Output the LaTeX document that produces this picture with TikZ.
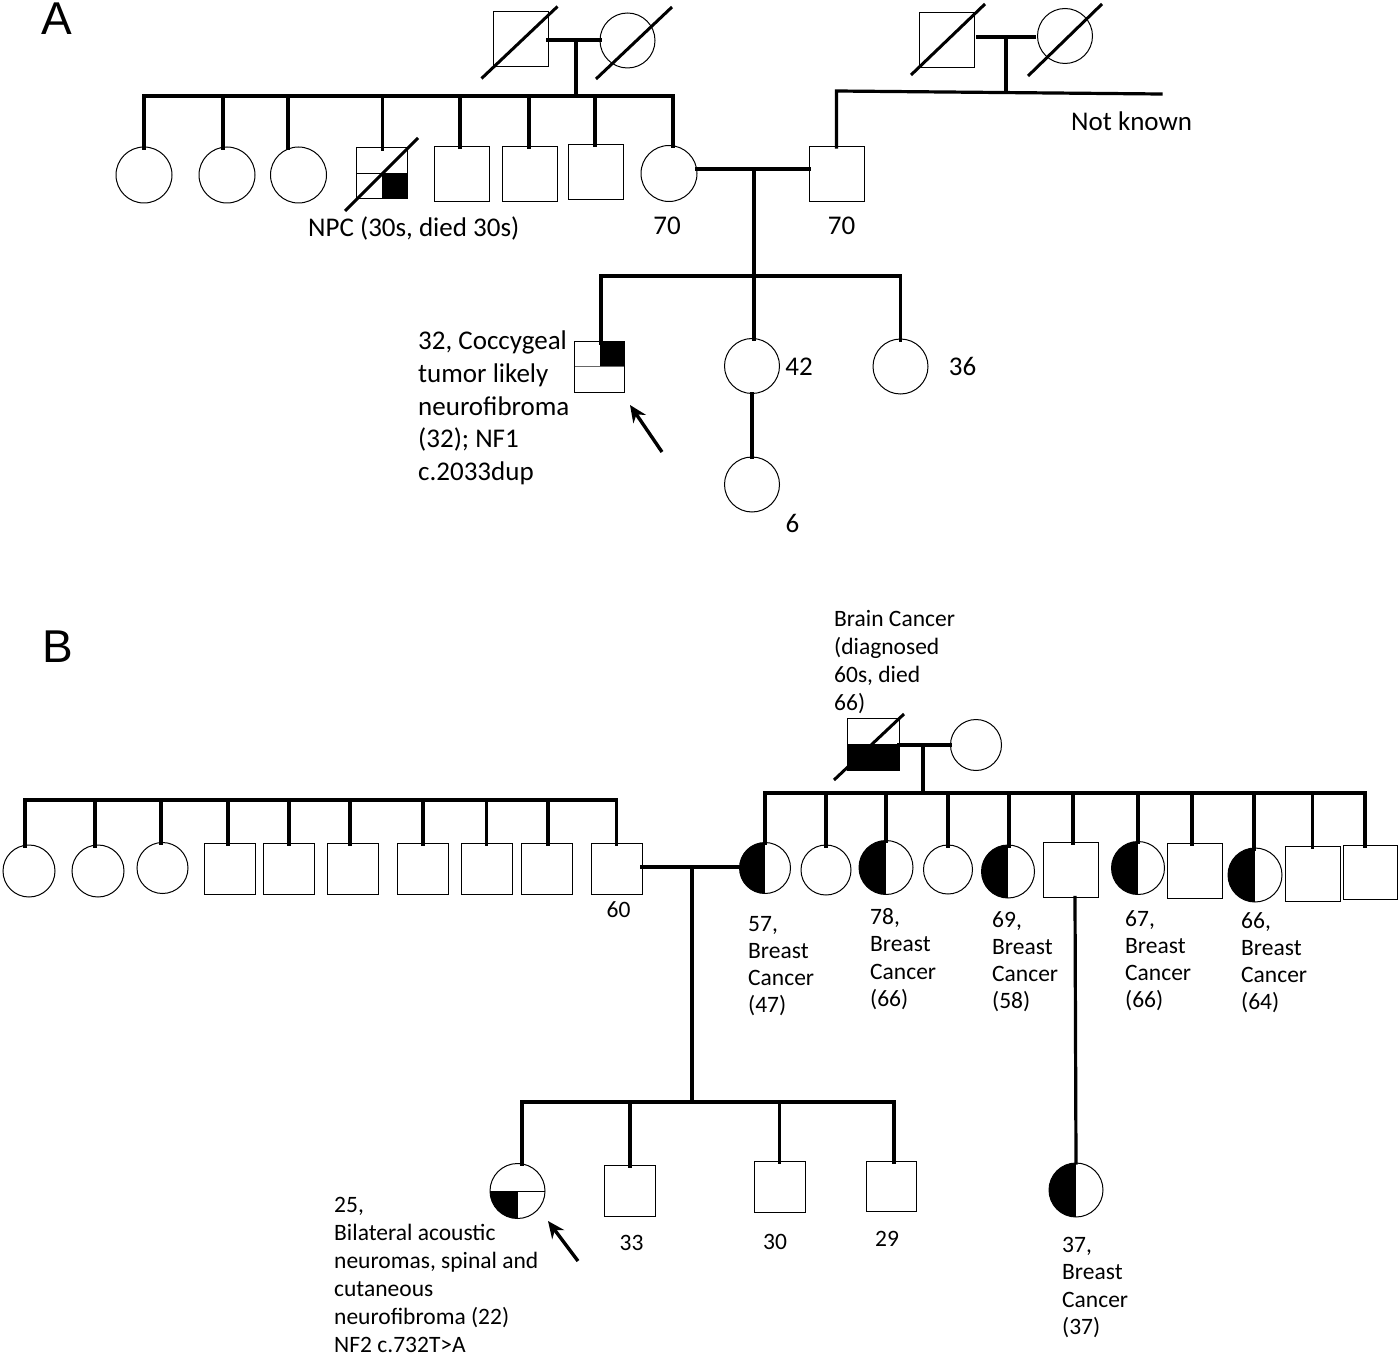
\documentclass[tikz,border=0pt]{standalone}
\usepackage{fontspec}
\setmainfont{Carlito}
\newfontfamily\panelfont{Liberation Sans}
\usetikzlibrary{arrows.meta,calc}
\tikzset{
 ind/.style={draw=black, line width=1pt, fill=white, inner sep=0pt, outer sep=0pt},
 sqr/.style={ind, rectangle, minimum width=#1, minimum height=#1},
 crc/.style={ind, circle, minimum size=#1},
 ln/.style={line width=3.2pt, black, line cap=rect},
 slash/.style={line width=3pt, black},
 halfL/.style={path picture={\fill[black] (path picture bounding box.south west) rectangle (path picture bounding box.north);}},
 lowhalf/.style={path picture={\fill[black] (path picture bounding box.west) rectangle (path picture bounding box.south east);
   \draw[line width=1pt] (path picture bounding box.west) -- (path picture bounding box.east);}},
 quadLR/.style={path picture={\fill[black] (path picture bounding box.center) rectangle (path picture bounding box.south east);
   \draw[line width=1pt] (path picture bounding box.west) -- (path picture bounding box.east);}},
 quadUR/.style={path picture={\fill[black] (path picture bounding box.center) rectangle (path picture bounding box.north east);
   \draw[line width=1pt, black!60] (path picture bounding box.west) -- (path picture bounding box.east);}},
 quadLL/.style={path picture={\fill[black] (path picture bounding box.west) rectangle (path picture bounding box.south);
   \draw[line width=1pt] (path picture bounding box.west) -- (path picture bounding box.east);}},
 lblA/.style={font=\fontsize{27}{32}\selectfont, inner sep=0pt},
 lblB/.style={font=\fontsize{23.5}{28}\selectfont, inner sep=0pt},
 panel/.style={font=\panelfont\fontsize{46}{50}\selectfont, inner sep=0pt},
 arr/.style={line width=3.4pt, -{Stealth[length=17pt,width=15pt]}},
}
% #1 name prefix, #2 style, #3 x, #4 first baseline y, #5 line skip, #6 lines
\newcommand\mlines[6]{\foreach \t [count=\i] in {#6} {\node[#2, anchor=base west] (#1-\i) at (#3, {#4+(\i-1)*#5}) {\t};}}
% #1 sibship coordinate, #2 node, #3 x offset
\newcommand\drop[3]{\draw[ln] ($(#2.north|-#1)+(#3,0)$) -- ($(#2.north)+(#3,1)$);}
\begin{document}
\begin{tikzpicture}[x=1pt,y=-1pt]
\useasboundingbox (0,0) rectangle (1398,1356);

%%%%%%%%%%%%%%%% Panel A
\node[panel, anchor=base west] (labA) at (41,35) {A};

% generation I, left couple
\node[sqr=55] (gf1) at (520.5,39.5) {};
\node[crc=55] (gm1) at (627.5,40.5) {};
\draw[slash] ($(gf1.center)+(-39,39)$) -- ($(gf1.center)+(37,-33)$);
\draw[slash] ($(gm1.center)+(-31.5,38.5)$) -- ($(gm1.center)+(44.5,-33.5)$);
\coordinate (mA1) at (576,40);
\coordinate (sA1) at (576,96);
\draw[ln] (gf1.east|-mA1) -- (gm1.west|-mA1);
\draw[ln] (mA1) -- (sA1);

% generation I, right couple
\node[sqr=55] (gf2) at (946.5,40.5) {};
\node[crc=55] (gm2) at (1065,36) {};
\draw[slash] ($(gf2.center)+(-35.5,34.5)$) -- ($(gf2.center)+(38.5,-36.5)$);
\draw[slash] ($(gm2.center)+(-37,40)$) -- ($(gm2.center)+(37,-32)$);
\coordinate (mA2) at (1006,37);
\coordinate (sR1) at (837,91);
\coordinate (sR2) at (1161,94);
\draw[ln] ($(gf2.east|-mA2)+(4,0)$) -- ($(gm2.west|-mA2)+(-3,0)$);
\draw[ln] (mA2) -- (mA2|-sR1);

% generation II
\node[crc=56] (c1) at (144,175) {};
\node[crc=56] (c2) at (227,175) {};
\node[crc=56] (c3) at (298.5,175) {};
\node[sqr=51, quadLR] (npc) at (381.5,173.5) {};
\node[sqr=55] (s5) at (462,174) {};
\node[sqr=55] (s6) at (530,174) {};
\node[sqr=55] (s7) at (596,172) {};
\node[crc=56] (mom) at (669,173.5) {};
\node[sqr=55] (dad) at (836.5,174.5) {};
\draw[slash] ($(npc.center)+(-36.5,37.5)$) -- ($(npc.center)+(36.5,-35.5)$);

\draw[ln] (c1.north|-sA1) -- (mom.north|-sA1);
\drop{sA1}{c1}{0}
\drop{sA1}{c2}{-4}
\drop{sA1}{c3}{-10.5}
\drop{sA1}{npc}{1}
\drop{sA1}{s5}{-2}
\drop{sA1}{s6}{-1}
\drop{sA1}{s7}{-1}
\drop{sA1}{mom}{4}
\draw[ln] (dad.north) -- (dad.north|-sR1) -- (sR2);

\coordinate (mA3) at (754,169);
\coordinate (sA3) at (754,276);
\draw[ln] (mom.east|-mA3) -- (dad.west|-mA3);
\draw[ln] (mA3) -- (sA3);

\node[lblA, anchor=base west] (npcT) at (308,237) {NPC (30s, died 30s)};
\node[lblA, anchor=base] (momT) at (667,235) {70};
\node[lblA, anchor=base] (dadT) at (841.5,235) {70};
\node[lblA, anchor=base west] (nkT) at (1071,131) {Not known};

% generation III
\node[sqr=50, quadUR] (pbA) at (599.5,367) {};
\node[crc=55] (c42) at (752,366) {};
\node[crc=55] (c36) at (900.5,366.5) {};
\node[crc=55] (c6) at (752,484.5) {};
\draw[ln] ($(pbA.north|-sA3)+(1.5,0)$) -- ($(c36.north|-sA3)$);
\drop{sA3}{pbA}{1.5}
\drop{sA3}{c42}{2}
\drop{sA3}{c36}{0}
\draw[ln] (c42.south) -- (c6.north);

\mlines{pbAT}{lblA}{418}{350}{32.6}{{32, Coccygeal},{tumor likely},{neurofibroma},{(32); NF1},{c.2033dup}}
\node[lblA, anchor=base] (t42) at (799,375) {42};
\node[lblA, anchor=base] (t36) at (962.5,375) {36};
\node[lblA, anchor=base] (t6) at (792.5,532) {6};
\coordinate (arA0) at (662,452);
\coordinate (arA1) at (630,405);
\draw[arr] (arA0) -- (arA1);

%%%%%%%%%%%%%%%% Panel B
\node[panel, anchor=base west] (labB) at (42,662) {B};

% paternal side sibship
\coordinate (sBL) at (25,800);
\node[crc=52] (l1) at (29,871) {};
\node[crc=52] (l2) at (98,871) {};
\node[crc=51] (l3) at (162.5,868) {};
\node[sqr=51] (l4) at (229.5,868.5) {};
\node[sqr=51] (l5) at (289,868.5) {};
\node[sqr=51] (l6) at (353,868.5) {};
\node[sqr=51] (l7) at (423,868.5) {};
\node[sqr=51] (l8) at (486.5,868.5) {};
\node[sqr=51] (l9) at (546.5,868.5) {};
\node[sqr=51] (l10) at (616.5,868.5) {};
\draw[ln] ($(l1.north|-sBL)+(-4,0)$) -- (l10.north|-sBL);
\drop{sBL}{l1}{-4}
\drop{sBL}{l2}{-3}
\drop{sBL}{l3}{-1.5}
\drop{sBL}{l4}{-1.5}
\drop{sBL}{l5}{0}
\drop{sBL}{l6}{-3}
\drop{sBL}{l7}{0}
\drop{sBL}{l8}{0}
\drop{sBL}{l9}{1.5}
\drop{sBL}{l10}{0}
\node[lblB, anchor=base] (t60) at (618.5,917) {60};

% maternal grandparents
\node[sqr=52, lowhalf] (bgf) at (873,744) {};
\node[crc=51] (bgm) at (976,745) {};
\draw[slash] ($(bgf.center)+(-39,36)$) -- ($(bgf.center)+(31,-30)$);
\coordinate (mB1) at (923,745);
\coordinate (sBR) at (923,793);
\draw[ln] (bgf.east|-mB1) -- (bgm.west|-mB1);
\draw[ln] (mB1) -- (sBR);
\mlines{bgfT}{lblB}{834}{626}{28.2}{{Brain Cancer},{(diagnosed},{60s, died},{66)}}

% maternal sibship
\node[crc=51, halfL] (r1) at (765,868) {};
\node[crc=50] (r2) at (826,870) {};
\node[crc=54, halfL] (r3) at (886,867.5) {};
\node[crc=49] (r4) at (948,869.5) {};
\node[crc=53, halfL] (r5) at (1008,871.5) {};
\node[sqr=55] (r6) at (1070.5,870) {};
\node[crc=53, halfL] (r7) at (1138,868) {};
\node[sqr=55] (r8) at (1194.5,870.5) {};
\node[crc=54, halfL] (r9) at (1255,875) {};
\node[sqr=55] (r10) at (1312.5,873.5) {};
\node[sqr=54] (r11) at (1370.5,872.5) {};
\draw[ln] (r1.north|-sBR) -- ($(r11.north|-sBR)+(-5.5,0)$);
\drop{sBR}{r1}{0}
\drop{sBR}{r2}{0}
\drop{sBR}{r3}{0}
\drop{sBR}{r4}{0}
\drop{sBR}{r5}{1}
\drop{sBR}{r6}{2.5}
\drop{sBR}{r7}{0}
\drop{sBR}{r8}{-2.5}
\drop{sBR}{r9}{-1}
\drop{sBR}{r10}{0}
\drop{sBR}{r11}{-5.5}

\mlines{r1T}{lblB}{748}{931}{27.3}{{57,},{Breast},{Cancer},{(47)}}
\mlines{r3T}{lblB}{870}{924}{27.5}{{78,},{Breast},{Cancer},{(66)}}
\mlines{r5T}{lblB}{992}{927}{27.3}{{69,},{Breast},{Cancer},{(58)}}
\mlines{r7T}{lblB}{1125}{926}{27.3}{{67,},{Breast},{Cancer},{(66)}}
\mlines{r9T}{lblB}{1241}{928}{27.3}{{66,},{Breast},{Cancer},{(64)}}

% parents' marriage and children
\coordinate (mB2) at (692,867);
\coordinate (sBC) at (692,1102);
\draw[ln] (l10.east|-mB2) -- (r1.west|-mB2);
\draw[ln] (mB2) -- (sBC);

\node[crc=55, quadLL] (pbB) at (517.5,1191) {};
\node[sqr=51] (g33) at (630,1191) {};
\node[sqr=51] (g30) at (779.5,1187) {};
\node[sqr=50] (g29) at (891,1186.5) {};
\draw[ln] ($(pbB.north|-sBC)+(4.5,0)$) -- ($(g29.north|-sBC)+(3,0)$);
\drop{sBC}{pbB}{4.5}
\drop{sBC}{g33}{0}
\drop{sBC}{g30}{0}
\drop{sBC}{g29}{3}

\mlines{pbBT}{lblB}{334}{1212}{28}{{25,},{Bilateral acoustic},{neuromas, spinal and},{cutaneous},{neurofibroma (22)},{NF2 c.732T>A}}
\node[lblB, anchor=base] (t33) at (631.5,1250) {33};
\node[lblB, anchor=base] (t30) at (775,1249) {30};
\node[lblB, anchor=base] (t29) at (887,1246) {29};
\coordinate (arB0) at (578,1261);
\coordinate (arB1) at (548,1221);
\draw[arr] (arB0) -- (arB1);

% cousin
\node[crc=54, halfL] (dd) at (1076,1190) {};
\draw[ln] ($(r6.south)+(4.5,0)$) -- ($(dd.north)+(0,0)$);
\mlines{ddT}{lblB}{1062}{1252}{27.6}{{37,},{Breast},{Cancer},{(37)}}

\end{tikzpicture}
\end{document}
